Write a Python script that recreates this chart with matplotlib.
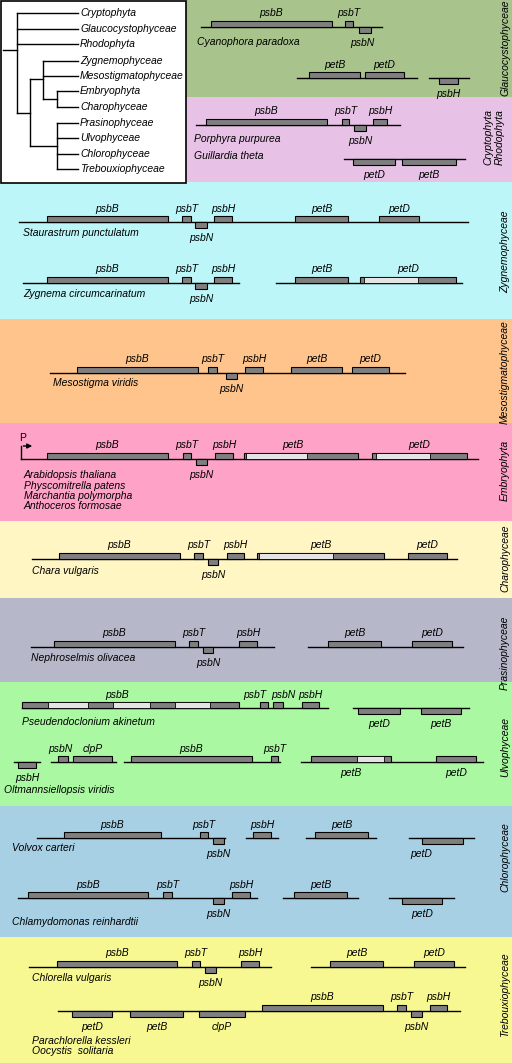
import matplotlib
matplotlib.use("Agg")
import matplotlib.pyplot as plt
from matplotlib.patches import Rectangle

plt.rcParams['font.family'] = ['Liberation Sans', 'DejaVu Sans']

# ---- clade panels ----
panel_names = ["Glaucocystophyceae", "Cryptophyta\nRhodophyta", "Zygnemophyceae",
               "Mesostigmatophyceae", "Embryophyta", "Charophyceae", "Prasinophyceae",
               "Ulvophyceae", "Chlorophyceae", "Trebouxiophyceae"]
panel_tops = [0, 97, 182, 319, 423, 521, 598, 682, 806, 937]
panel_bottoms = [97, 182, 319, 423, 521, 598, 682, 806, 937, 1063]
panel_lefts = [186, 186, 0, 0, 0, 0, 0, 0, 0, 0]
panel_label_y = [48, 137, 252, 372, 470, 558, 653, 747, 857, 995]
panel_colors = ["#a8c48c", "#e8c2e6", "#bcf6f8", "#ffc48c", "#ffa2c8",
                "#fff6c4", "#b6b8ca", "#aaf8a2", "#a8d0e4", "#f8f892"]

# ---- tree ----
tree_taxa = ["Cryptophyta", "Glaucocystophyceae", "Rhodophyta", "Zygnemophyceae",
             "Mesostigmatophyceae", "Embryophyta", "Charophyceae", "Prasinophyceae",
             "Ulvophyceae", "Chlorophyceae", "Trebouxiophyceae"]
tree_leaf_y = [13, 29, 44, 61, 76, 91, 107, 123, 138, 154, 169]
tree_leaf_x0 = [17, 17, 17, 43, 43, 57, 57, 57, 57, 57, 57]
# internal edges: (x0, y0, x1, y1)
tree_edges = [(3, 50, 17, 50), (17, 13, 17, 113), (17, 113, 30, 113), (30, 79, 30, 146),
              (30, 79, 43, 79), (43, 61, 43, 99), (43, 99, 57, 99), (57, 91, 57, 107),
              (30, 146, 57, 146), (57, 123, 57, 169)]

# ---- gene tracks ----
# gene: (name, start, end, box side, label side)   u = above line, d = below line
cyanophora_y = 27
cyanophora_lines = [(201, 382)]
cyanophora_genes = [("psbB", 211, 332, "u", "u"), ("psbT", 345, 353, "u", "u"),
                    ("psbN", 359, 371, "d", "d")]
glauco2_y = 78
glauco2_lines = [(297, 417), (429, 469)]
glauco2_genes = [("petB", 309, 360, "u", "u"), ("petD", 365, 404, "u", "u"),
                 ("psbH", 439, 458, "d", "d")]

porphyra_y = 125
porphyra_lines = [(196, 400)]
porphyra_genes = [("psbB", 206, 327, "u", "u"), ("psbT", 342, 349, "u", "u"),
                  ("psbN", 354, 366, "d", "d"), ("psbH", 373, 387, "u", "u")]
crypto2_y = 159
crypto2_lines = [(344, 465)]
crypto2_genes = [("petD", 353, 395, "d", "d"), ("petB", 402, 456, "d", "d")]

staurastrum_y = 222
staurastrum_lines = [(19, 468)]
staurastrum_genes = [("psbB", 47, 168, "u", "u"), ("psbT", 182, 191, "u", "u"),
                     ("psbN", 195, 207, "d", "d"), ("psbH", 214, 232, "u", "u"),
                     ("petB", 295, 348, "u", "u"), ("petD", 379, 419, "u", "u")]
zygnema_y = 283
zygnema_lines = [(23, 239), (276, 462)]
zygnema_genes = [("psbB", 47, 168, "u", "u"), ("psbT", 182, 191, "u", "u"),
                 ("psbN", 195, 207, "d", "d"), ("psbH", 214, 232, "u", "u"),
                 ("petB", 295, 348, "u", "u"), ("petD", 360, 456, "u", "u")]
zygnema_introns = [(364, 418)]

mesostigma_y = 373
mesostigma_lines = [(50, 405)]
mesostigma_genes = [("psbB", 77, 198, "u", "u"), ("psbT", 208, 217, "u", "u"),
                    ("psbN", 226, 237, "d", "d"), ("psbH", 245, 263, "u", "u"),
                    ("petB", 291, 342, "u", "u"), ("petD", 352, 389, "u", "u")]

embryo_y = 459
embryo_lines = [(21, 478)]
embryo_genes = [("psbB", 47, 168, "u", "u"), ("psbT", 183, 191, "u", "u"),
                ("psbN", 196, 207, "d", "d"), ("psbH", 215, 233, "u", "u"),
                ("petB", 244, 358, "u", "u"), ("petD", 372, 467, "u", "u")]
embryo_introns = [(246, 307), (376, 430)]

chara_y = 559
chara_lines = [(32, 457)]
chara_genes = [("psbB", 59, 180, "u", "u"), ("psbT", 194, 203, "u", "u"),
               ("psbN", 208, 218, "d", "d"), ("psbH", 227, 244, "u", "u"),
               ("petB", 257, 384, "u", "u"), ("petD", 408, 447, "u", "u")]
chara_introns = [(259, 333)]

nephro_y = 647
nephro_lines = [(31, 274), (308, 463)]
nephro_genes = [("psbB", 54, 175, "u", "u"), ("psbT", 189, 198, "u", "u"),
                ("psbN", 203, 213, "d", "d"), ("psbH", 239, 257, "u", "u"),
                ("petB", 328, 381, "u", "u"), ("petD", 412, 452, "u", "u")]

pseudo_y = 708
pseudo_lines = [(22, 328), (353, 469)]
pseudo_genes = [("psbB", 22, 239, "u", "u"), ("psbT", 260, 268, "u", "u"),
                ("psbN", 273, 283, "u", "u"), ("psbH", 302, 319, "u", "u"),
                ("petD", 358, 400, "d", "d"), ("petB", 421, 461, "d", "d")]
pseudo_introns = [(48, 88), (113, 150), (175, 210)]

oltm_y = 762
oltm_lines = [(14, 40), (51, 116), (124, 280), (301, 483)]
oltm_genes = [("psbH", 18, 36, "d", "d"), ("psbN", 58, 68, "u", "u"),
              ("clpP", 73, 112, "u", "u"), ("psbB", 131, 252, "u", "u"),
              ("psbT", 271, 278, "u", "u"), ("petB", 311, 391, "u", "d"),
              ("petD", 436, 476, "u", "d")]
oltm_introns = [(357, 384)]

volvox_y = 838
volvox_lines = [(37, 225), (246, 278), (306, 376), (409, 474)]
volvox_genes = [("psbB", 64, 161, "u", "u"), ("psbT", 200, 208, "u", "u"),
                ("psbN", 213, 224, "d", "d"), ("psbH", 253, 271, "u", "u"),
                ("petB", 315, 368, "u", "u"), ("petD", 422, 463, "d", "d")]

chlamy_y = 898
chlamy_lines = [(18, 257), (283, 358), (389, 454)]
chlamy_genes = [("psbB", 28, 148, "u", "u"), ("psbT", 163, 172, "u", "u"),
                ("psbN", 213, 224, "d", "d"), ("psbH", 232, 250, "u", "u"),
                ("petB", 294, 347, "u", "u"), ("petD", 402, 442, "d", "d")]

chlorella_y = 967
chlorella_lines = [(29, 271), (311, 465)]
chlorella_genes = [("psbB", 57, 177, "u", "u"), ("psbT", 192, 200, "u", "u"),
                   ("psbN", 205, 216, "d", "d"), ("psbH", 241, 259, "u", "u"),
                   ("petB", 330, 383, "u", "u"), ("petD", 414, 454, "u", "u")]

parachl_y = 1011
parachl_lines = [(58, 460)]
parachl_genes = [("petD", 72, 112, "d", "d"), ("petB", 130, 183, "d", "d"),
                 ("clpP", 199, 245, "d", "d"), ("psbB", 262, 383, "u", "u"),
                 ("psbT", 397, 406, "u", "u"), ("psbN", 411, 422, "d", "d"),
                 ("psbH", 430, 447, "u", "u")]

tracks = [
    (cyanophora_y, cyanophora_lines, cyanophora_genes, []),
    (glauco2_y, glauco2_lines, glauco2_genes, []),
    (porphyra_y, porphyra_lines, porphyra_genes, []),
    (crypto2_y, crypto2_lines, crypto2_genes, []),
    (staurastrum_y, staurastrum_lines, staurastrum_genes, []),
    (zygnema_y, zygnema_lines, zygnema_genes, zygnema_introns),
    (mesostigma_y, mesostigma_lines, mesostigma_genes, []),
    (embryo_y, embryo_lines, embryo_genes, embryo_introns),
    (chara_y, chara_lines, chara_genes, chara_introns),
    (nephro_y, nephro_lines, nephro_genes, []),
    (pseudo_y, pseudo_lines, pseudo_genes, pseudo_introns),
    (oltm_y, oltm_lines, oltm_genes, oltm_introns),
    (volvox_y, volvox_lines, volvox_genes, []),
    (chlamy_y, chlamy_lines, chlamy_genes, []),
    (chlorella_y, chlorella_lines, chlorella_genes, []),
    (parachl_y, parachl_lines, parachl_genes, []),
]

# label shifts where the label is not centred on its gene: (track y, gene) -> dx
label_nudge = {(pseudo_y, "psbB"): -13, (pseudo_y, "psbT"): -9, (pseudo_y, "psbN"): 5,
               (embryo_y, "petB"): -8, (volvox_y, "petD"): -21, (oltm_y, "psbN"): -3,
               (cyanophora_y, "psbN"): -3}

# species names: (text, x, y)
species = [("Cyanophora paradoxa", 197, 42), ("Porphyra purpurea", 194, 139),
           ("Guillardia theta", 194, 156), ("Staurastrum punctulatum", 23, 233),
           ("Zygnema circumcarinatum", 23, 294), ("Mesostigma viridis", 53, 383),
           ("Arabidopsis thaliana", 24, 475), ("Physcomitrella patens", 24, 486),
           ("Marchantia polymorpha", 24, 496), ("Anthoceros formosae", 24, 506),
           ("Chara vulgaris", 32, 571), ("Nephroselmis olivacea", 31, 658),
           ("Pseudendoclonium akinetum", 22, 722), ("Oltmannsiellopsis viridis", 4, 790),
           ("Volvox carteri", 12, 848), ("Chlamydomonas reinhardtii", 12, 922),
           ("Chlorella vulgaris", 32, 978), ("Parachlorella kessleri", 32, 1041),
           ("Oocystis  solitaria", 32, 1051)]

FS = 7.5
BOX_H = 6
DARK = "#7f7f7f"
LIGHT = "#e4e4e4"

fig = plt.figure(figsize=(5.12, 10.63), dpi=100)
ax = fig.add_axes([0, 0, 1, 1])
ax.set_xlim(0, 512)
ax.set_ylim(1063, 0)
ax.axis('off')

# background panels
for name, t, b, l, ly, c in zip(panel_names, panel_tops, panel_bottoms, panel_lefts,
                                panel_label_y, panel_colors):
    ax.add_patch(Rectangle((l, t), 512 - l, b - t, facecolor=c, edgecolor='none', zorder=0))
    ax.text(494 if "\n" in name else 505, ly, name, rotation=90, ha='center', va='center',
            fontsize=FS, style='italic', linespacing=1.25)

# tree box
ax.add_patch(Rectangle((0.7, 0.7), 185.5, 182.5, facecolor='white', edgecolor='black',
                       lw=1.2, zorder=1))
for x0, y0, x1, y1 in tree_edges:
    ax.plot([x0, x1], [y0, y1], color='black', lw=1.0, zorder=2, solid_capstyle='projecting')
for taxon, y, x0 in zip(tree_taxa, tree_leaf_y, tree_leaf_x0):
    ax.plot([x0, 78], [y, y], color='black', lw=1.0, zorder=2)
    ax.text(80, y, taxon, ha='left', va='center', fontsize=FS, style='italic', zorder=3)

# gene tracks
for y, lines, genes, introns in tracks:
    for x0, x1 in lines:
        ax.plot([x0, x1], [y, y], color='black', lw=1.0, zorder=2)
    for name, g0, g1, side, lab in genes:
        top = y - BOX_H if side == "u" else y
        ax.add_patch(Rectangle((g0, top), g1 - g0, BOX_H, facecolor=DARK,
                               edgecolor='black', lw=0.8, zorder=3))
        for i0, i1 in introns:
            if g0 <= i0 and i1 <= g1:
                ax.add_patch(Rectangle((i0, top), i1 - i0, BOX_H, facecolor=LIGHT,
                                       edgecolor='black', lw=0.6, zorder=4))
        if lab == "u":
            ly = y - 13.5
        elif side == "d":
            ly = y + 16
        else:
            ly = y + 11
        lx = (g0 + g1) / 2 + label_nudge.get((y, name), 0)
        ax.text(lx, ly, name, ha='center', va='center', fontsize=FS,
                style='italic', zorder=5)

for name, x, y in species:
    ax.text(x, y, name, ha='left', va='center', fontsize=FS, style='italic', zorder=5)

# promoter arrow in Embryophyta
ax.plot([21, 21], [embryo_y, embryo_y - 13], color='black', lw=1.0, zorder=3)
ax.annotate("", xy=(35, embryo_y - 13), xytext=(20.6, embryo_y - 13),
            arrowprops=dict(arrowstyle='-|>', color='black', lw=1.0, mutation_scale=7),
            zorder=3)
ax.text(23, embryo_y - 21, "P", ha='center', va='center', fontsize=FS)

fig.savefig("out.png", dpi=100)
